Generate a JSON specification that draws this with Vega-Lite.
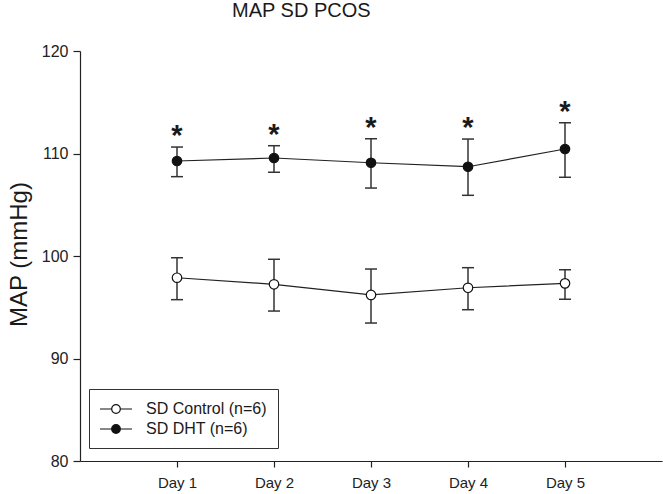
{
  "$schema": "https://vega.github.io/schema/vega-lite/v6.json",
  "width": 582,
  "height": 410,
  "autosize": "none",
  "padding": {"left": 80, "top": 51, "right": 1, "bottom": 33},
  "background": "white",
  "title": {
    "text": "MAP SD PCOS",
    "anchor": "start",
    "frame": "group",
    "dx": 152,
    "offset": 22,
    "fontSize": 20,
    "font": "Liberation Sans",
    "fontWeight": "normal",
    "color": "#1a1a1a"
  },
  "config": {
    "view": {"stroke": null},
    "font": "Liberation Sans",
    "axis": {
      "grid": false,
      "domainColor": "#222",
      "tickColor": "#222",
      "labelColor": "#222",
      "titleColor": "#1a1a1a",
      "labelFont": "Liberation Sans",
      "titleFont": "Liberation Sans",
      "titleFontWeight": "normal",
      "domainWidth": 1.2,
      "tickWidth": 1.2
    }
  },
  "data": {
    "values": [
      {"day": 1, "group": "SD Control (n=6)", "mean": 97.88, "lo": 95.74, "hi": 99.83, "sig": false},
      {"day": 2, "group": "SD Control (n=6)", "mean": 97.24, "lo": 94.63, "hi": 99.68, "sig": false},
      {"day": 3, "group": "SD Control (n=6)", "mean": 96.20, "lo": 93.46, "hi": 98.73, "sig": false},
      {"day": 4, "group": "SD Control (n=6)", "mean": 96.90, "lo": 94.76, "hi": 98.86, "sig": false},
      {"day": 5, "group": "SD Control (n=6)", "mean": 97.33, "lo": 95.78, "hi": 98.66, "sig": false},
      {"day": 1, "group": "SD DHT (n=6)", "mean": 109.27, "lo": 107.74, "hi": 110.63, "sig": true},
      {"day": 2, "group": "SD DHT (n=6)", "mean": 109.56, "lo": 108.17, "hi": 110.76, "sig": true},
      {"day": 3, "group": "SD DHT (n=6)", "mean": 109.10, "lo": 106.63, "hi": 111.44, "sig": true},
      {"day": 4, "group": "SD DHT (n=6)", "mean": 108.71, "lo": 105.92, "hi": 111.41, "sig": true},
      {"day": 5, "group": "SD DHT (n=6)", "mean": 110.44, "lo": 107.68, "hi": 113.00, "sig": true}
    ]
  },
  "encoding": {
    "x": {
      "field": "day",
      "type": "quantitative",
      "scale": {"domain": [0, 6], "nice": false, "zero": false},
      "axis": {
        "values": [1, 2, 3, 4, 5],
        "labelExpr": "'Day ' + datum.value",
        "title": null,
        "labelFontSize": 15,
        "tickSize": 6,
        "labelPadding": 8
      }
    }
  },
  "layer": [
    {
      "mark": {"type": "line", "color": "#222", "strokeWidth": 1.2},
      "encoding": {
        "y": {
          "field": "mean",
          "type": "quantitative",
          "scale": {"domain": [80, 120], "nice": false, "zero": false},
          "axis": {
            "values": [80, 90, 100, 110, 120],
            "title": "MAP (mmHg)",
            "titleFontSize": 24,
            "titleAngle": 270,
            "titleAlign": "center",
            "titleBaseline": "alphabetic",
            "titleX": -54,
            "titleY": 203,
            "labelFontSize": 16,
            "tickSize": 7,
            "labelPadding": 5
          }
        },
        "detail": {"field": "group"}
      }
    },
    {
      "mark": {"type": "rule", "color": "#333", "strokeWidth": 1.5},
      "encoding": {
        "y": {"field": "lo", "type": "quantitative"},
        "y2": {"field": "hi"}
      }
    },
    {
      "mark": {"type": "tick", "orient": "horizontal", "color": "#333", "size": 12, "thickness": 1.5, "opacity": 1},
      "encoding": {"y": {"field": "hi", "type": "quantitative"}}
    },
    {
      "mark": {"type": "tick", "orient": "horizontal", "color": "#333", "size": 12, "thickness": 1.5, "opacity": 1},
      "encoding": {"y": {"field": "lo", "type": "quantitative"}}
    },
    {
      "mark": {"type": "point", "shape": "circle", "filled": true, "size": 90, "stroke": "#111", "strokeWidth": 1.2, "opacity": 1},
      "encoding": {
        "y": {"field": "mean", "type": "quantitative"},
        "fill": {
          "field": "group",
          "type": "nominal",
          "scale": {"domain": ["SD Control (n=6)", "SD DHT (n=6)"], "range": ["white", "#111"]},
          "legend": {
            "orient": "none",
            "legendX": 9,
            "legendY": 338,
            "title": null,
            "symbolType": "M-2,0H-0.54M0.54,0H2M-0.54,0A0.54,0.54,0,1,0,0.54,0A0.54,0.54,0,1,0,-0.54,0Z",
            "symbolSize": 256,
            "symbolOffset": 7,
            "symbolStrokeColor": "#111",
            "symbolStrokeWidth": 1.2,
            "symbolOpacity": 1,
            "labelFontSize": 16,
            "labelFont": "Liberation Sans",
            "labelColor": "#1a1a1a",
            "labelOffset": 21,
            "padding": 11,
            "rowPadding": 3,
            "strokeColor": "#333"
          }
        }
      }
    },
    {
      "transform": [{"filter": "datum.sig"}],
      "mark": {"type": "text", "text": "*", "fontSize": 29, "fontWeight": "bold", "font": "Liberation Sans", "baseline": "alphabetic", "dy": -2, "color": "#1a1a1a"},
      "encoding": {"y": {"field": "hi", "type": "quantitative"}}
    }
  ]
}
